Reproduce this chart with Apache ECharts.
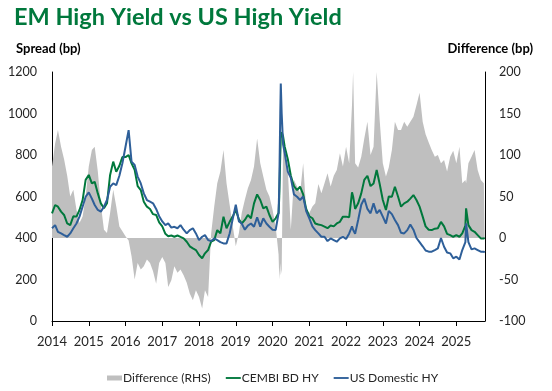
<!DOCTYPE html>
<html>
<head>
<meta charset="utf-8">
<script src="https://cdn.jsdelivr.net/npm/echarts@6/dist/echarts.min.js"></script>
<style>
html,body{margin:0;padding:0;background:#fff;}
#chart{width:552px;height:391px;}
</style>
</head>
<body>
<div id="chart"></div>
<script>
// Observation dates (monthly, plus a few extra points around spikes)
const dates = [
 '2014-01','2014-02','2014-03','2014-04','2014-05','2014-06','2014-07','2014-08','2014-09','2014-10','2014-11','2014-12',
 '2015-01','2015-02','2015-03','2015-04','2015-05','2015-06','2015-07','2015-08','2015-09','2015-10','2015-11','2015-12',
 '2016-01','2016-02','2016-03','2016-04','2016-05','2016-06','2016-07','2016-08','2016-09','2016-10','2016-11','2016-12',
 '2017-01','2017-02','2017-03','2017-04','2017-05','2017-06','2017-07','2017-08','2017-09','2017-10','2017-11','2017-12',
 '2018-01','2018-02','2018-03','2018-04','2018-05','2018-06','2018-07','2018-08','2018-09','2018-10','2018-11','2018-12',
 '2019-01','2019-02','2019-03','2019-04','2019-05','2019-06','2019-07','2019-08','2019-09','2019-10','2019-11','2019-12',
 '2020-01','2020-02','2020-03-01','2020-03-08','2020-03-18','2020-03-23','2020-04-01','2020-04-15','2020-05','2020-06','2020-07','2020-08','2020-09','2020-10','2020-11','2020-12',
 '2021-01','2021-02','2021-03','2021-04','2021-05','2021-06','2021-07','2021-08','2021-09','2021-10','2021-11','2021-12',
 '2022-01','2022-02','2022-03-01','2022-03-12','2022-04','2022-05','2022-06','2022-07','2022-08','2022-09','2022-10','2022-11','2022-12',
 '2023-01','2023-02','2023-03','2023-04','2023-05','2023-06','2023-07','2023-08','2023-09','2023-10','2023-11','2023-12',
 '2024-01','2024-02','2024-03','2024-04','2024-05','2024-06','2024-07','2024-08','2024-09','2024-10','2024-11','2024-12',
 '2025-01','2025-02','2025-03','2025-04-01','2025-04-08','2025-05','2025-06','2025-07','2025-08','2025-09','2025-10-01','2025-10-10'
];
// CEMBI BD HY spread (bp)
const cembi = [
 519,559,551,527,511,470,462,505,503,535,583,680,
 704,663,671,615,567,543,567,704,768,719,748,790,
 790,800,760,728,650,631,575,551,540,515,511,475,
 456,420,408,412,406,412,405,398,382,360,350,342,
 318,302,326,342,382,390,438,422,503,447,478,503,
 535,490,470,487,511,495,567,610,583,543,551,511,
 478,495,520,600,800,880,910,890,840,780,700,650,631,647,610,540,
 505,495,470,465,462,455,447,460,456,470,478,503,
 503,500,620,600,540,567,615,680,700,650,663,728,660,
 583,535,600,599,647,600,551,567,575,590,607,583,
 551,503,456,440,438,445,447,478,456,420,414,406,
 414,406,422,460,543,462,438,430,414,398,398,400
];
// US Domestic HY spread (bp)
const usHY = [
 447,462,430,422,414,406,422,447,470,503,551,599,
 620,590,559,535,527,551,583,647,663,655,700,760,
 840,920,768,752,696,663,615,583,575,567,540,505,
 480,462,470,450,454,447,462,440,422,438,447,422,
 390,406,414,390,385,398,390,380,374,374,422,490,
 560,480,470,440,460,470,454,500,455,495,470,454,
 440,438,520,650,1000,1145,1000,850,810,720,690,610,599,583,600,530,
 495,456,438,422,406,406,385,398,390,382,398,406,
 395,422,456,440,420,487,560,590,540,519,567,519,535,
 503,470,530,515,487,462,425,422,438,465,440,400,
 380,360,340,334,334,342,350,400,358,330,326,302,
 310,296,342,380,470,380,345,350,342,334,334,330
];
// Difference (RHS, bp)
const diff = [
 86,114,130,110,95,75,50,58,34,18,26,50,
 86,106,110,80,40,10,6,30,58,38,14,8,
 2,-3,-22,-50,-30,-38,-34,-26,-30,-40,-55,-30,
 -23,-30,-59,-51,-34,-42,-38,-45,-54,-67,-75,-63,
 -71,-85,-63,-71,5,38,66,80,106,66,40,15,
 -10,6,30,46,60,70,86,120,90,74,58,50,
 34,14,-20,-50,-30,-45,-38,110,110,82,10,70,62,54,90,34,
 30,38,42,65,54,66,78,62,75,82,102,86,
 110,90,160,200,90,85,98,120,140,100,110,200,142,
 90,74,85,106,140,130,130,140,134,140,146,160,
 175,140,125,115,106,98,100,90,94,80,98,105,
 90,110,66,70,66,90,98,106,82,70,66,66
];
const yearTicks = ['2014','2015','2016','2017','2018','2019','2020','2021','2022','2023','2024','2025'];

function toYear(s){
  const p = s.split('-').map(Number);
  const y = p[0], m = p[1], d = p[2] || 1;
  const start = Date.UTC(y,0,1), end = Date.UTC(y+1,0,1);
  return y + (Date.UTC(y,m-1,d) - start)/(end - start);
}
const xs = dates.map(toYear);
const pair = arr => arr.map((v,i)=>[xs[i], v]);

const FONT = 'Lato';
const TXT = '#262626';
const GREEN = '#00783C', BLUE = '#2E5F99', GREY = '#BFBFBF';
const LINE_ICON = 'path://M0,0L16,0L16,2L0,2Z';
const chart = echarts.init(document.getElementById('chart'), null, {renderer:'canvas'});
chart.setOption({
  animation:false,
  backgroundColor:'#ffffff',
  title:[
    {text:'EM High Yield vs US High Yield', left:9, top:0,
     textStyle:{fontFamily:FONT, fontSize:23.5, fontWeight:'bold', color:GREEN}},
    {text:'Spread (bp)', left:11, top:37,
     textStyle:{fontFamily:FONT, fontSize:13, fontWeight:'bold', color:'#000'}},
    {text:'Difference (bp)', right:14, top:37,
     textStyle:{fontFamily:FONT, fontSize:13, fontWeight:'bold', color:'#000'}}
  ],
  grid:{left:52, right:67, top:72, bottom:70, containLabel:false},
  legend:{
    left:102, top:367, itemGap:15, itemWidth:15, itemHeight:5,
    textStyle:{fontFamily:FONT, fontSize:12, color:TXT, padding:[0,0,0,-4]},
    data:[
      {name:'Difference (RHS)', icon:'rect', itemStyle:{color:GREY}},
      {name:'CEMBI BD HY', icon:LINE_ICON, itemStyle:{color:GREEN}},
      {name:'US Domestic HY', icon:LINE_ICON, itemStyle:{color:BLUE}}
    ]
  },
  xAxis:{
    type:'value', min:2014, max:2025.78, interval:1,
    splitLine:{show:false},
    axisLine:{onZero:false, lineStyle:{color:'#000', width:1}},
    axisTick:{show:true, inside:false, length:5, lineStyle:{color:'#000'}},
    axisLabel:{
      fontFamily:FONT, fontSize:13, color:TXT, margin:14, showMaxLabel:false,
      formatter: v => { const s = String(Math.round(v)); return (Math.abs(v-Math.round(v))<1e-6 && yearTicks.includes(s)) ? s : ''; }
    }
  },
  yAxis:[
    {type:'value', min:0, max:1200, interval:200, position:'left',
     splitLine:{show:false},
     axisLine:{show:true, lineStyle:{color:'#000'}},
     axisTick:{show:false},
     axisLabel:{fontFamily:FONT, fontSize:12.5, color:TXT, margin:15, formatter: v => String(v)}},
    {type:'value', min:-100, max:200, interval:50, position:'right',
     splitLine:{show:false},
     axisLine:{show:true, lineStyle:{color:'#000'}},
     axisTick:{show:false},
     axisLabel:{fontFamily:FONT, fontSize:12.5, color:TXT, margin:14, align:'left', formatter: v => String(v)}}
  ],
  series:[
    {name:'Difference (RHS)', type:'line', yAxisIndex:1, data:pair(diff),
     showSymbol:false, symbol:'none', lineStyle:{width:0, color:GREY},
     itemStyle:{color:GREY},
     areaStyle:{color:GREY, opacity:1, origin:0}, z:1},
    {name:'CEMBI BD HY', type:'line', yAxisIndex:0, data:pair(cembi),
     showSymbol:false, symbol:'none', lineStyle:{width:2, color:GREEN},
     itemStyle:{color:GREEN}, z:2},
    {name:'US Domestic HY', type:'line', yAxisIndex:0, data:pair(usHY),
     showSymbol:false, symbol:'none', lineStyle:{width:2, color:BLUE},
     itemStyle:{color:BLUE}, z:3}
  ]
});
</script>
</body>
</html>
